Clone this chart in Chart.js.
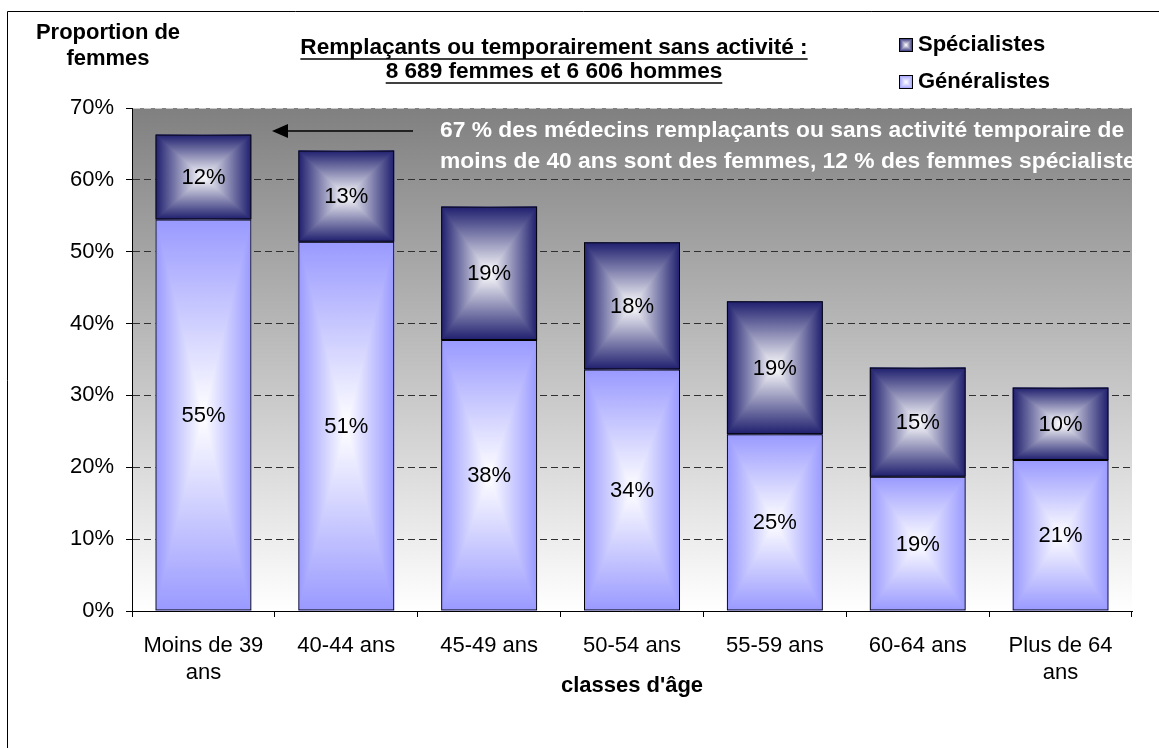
<!DOCTYPE html>
<html>
<head>
<meta charset="utf-8">
<script src="https://cdn.jsdelivr.net/npm/chart.js@4.4.0/dist/chart.umd.min.js"></script>
<style>
body { margin: 0; background: #fff; }
#wrap { width: 1159px; height: 748px; }
</style>
</head>
<body>
<div id="wrap"><canvas id="myChart" width="1159" height="748"></canvas></div>
<script>
var categories = [["Moins de 39", "ans"], "40-44 ans", "45-49 ans", "50-54 ans", "55-59 ans", "60-64 ans", ["Plus de 64", "ans"]];
var generalistes = [54.5, 51.4, 37.7, 33.6, 24.6, 18.7, 21.0];
var specialistes = [11.8, 12.7, 18.6, 17.7, 18.5, 15.2, 10.1];
var yTicks = [0, 10, 20, 30, 40, 50, 60, 70];

var FONT = "'Liberation Sans', Arial, sans-serif";
var edgeColors = ["#9999ff", "#1e1e6e"];

// rectangle gradient from the edges to the centre (like the Excel fill)
function frameFill(ctx, x0, y0, x1, y1, edge) {
    var cx = (x0 + x1) / 2, cy = (y0 + y1) / 2;
    var g = ctx.createLinearGradient(x0, 0, x1, 0);
    g.addColorStop(0, edge);
    g.addColorStop(0.5, "#ffffff");
    g.addColorStop(1, edge);
    ctx.fillStyle = g;
    ctx.fillRect(x0, y0, x1 - x0, y1 - y0);

    var gt = ctx.createLinearGradient(0, y0, 0, cy);
    gt.addColorStop(0, edge);
    gt.addColorStop(1, "#ffffff");
    ctx.fillStyle = gt;
    ctx.beginPath();
    ctx.moveTo(x0, y0); ctx.lineTo(cx, cy); ctx.lineTo(x1, y0);
    ctx.closePath(); ctx.fill();

    var gb = ctx.createLinearGradient(0, y1, 0, cy);
    gb.addColorStop(0, edge);
    gb.addColorStop(1, "#ffffff");
    ctx.fillStyle = gb;
    ctx.beginPath();
    ctx.moveTo(x0, y1); ctx.lineTo(cx, cy); ctx.lineTo(x1, y1);
    ctx.closePath(); ctx.fill();
}

var decor = {
    id: "decor",
    beforeDraw: function (chart) {
        var ctx = chart.ctx, a = chart.chartArea;
        ctx.save();
        ctx.fillStyle = "#fff";
        ctx.fillRect(0, 0, chart.width, chart.height);
        var g = ctx.createLinearGradient(0, a.top, 0, a.bottom);
        g.addColorStop(0, "#808080");
        g.addColorStop(1, "#ffffff");
        ctx.fillStyle = g;
        ctx.fillRect(a.left, a.top, a.right - a.left, a.bottom - a.top);
        // outer frame
        ctx.strokeStyle = "#000";
        ctx.lineWidth = 1;
        ctx.beginPath();
        ctx.moveTo(7.5, chart.height + 5);
        ctx.lineTo(7.5, 11.5);
        ctx.lineTo(chart.width + 5, 11.5);
        ctx.stroke();
        ctx.restore();
    },
    beforeDatasetsDraw: function (chart) {
        var ctx = chart.ctx;
        ctx.save();
        chart.data.datasets.forEach(function (ds, i) {
            chart.getDatasetMeta(i).data.forEach(function (el) {
                var p = el.getProps(["x", "y", "base", "width"], true);
                frameFill(ctx, p.x - p.width / 2, p.y, p.x + p.width / 2, p.base, edgeColors[i]);
            });
        });
        ctx.restore();
    },
    afterDatasetsDraw: function (chart) {
        var ctx = chart.ctx;
        ctx.save();
        ctx.fillStyle = "#000";
        ctx.font = "22px " + FONT;
        ctx.textAlign = "center";
        ctx.textBaseline = "middle";
        chart.data.datasets.forEach(function (ds, i) {
            chart.getDatasetMeta(i).data.forEach(function (el, j) {
                var p = el.getProps(["x", "y", "base"], true);
                ctx.fillText(Math.round(ds.data[j]) + "%", p.x, (p.y + p.base) / 2 + 1);
            });
        });
        ctx.restore();
    },
    afterDraw: function (chart) {
        var ctx = chart.ctx, a = chart.chartArea;
        ctx.save();
        ctx.fillStyle = "#000";
        ctx.textBaseline = "middle";
        ctx.textAlign = "center";
        ctx.font = "bold 22px " + FONT;
        ctx.fillText("Proportion de", 108, 33);
        ctx.fillText("femmes", 108, 59);
        ctx.fillText("classes d'âge", (a.left + a.right) / 2, 686);

        // underlined title
        ctx.font = "bold 22.6px " + FONT;
        var tl = ["Remplaçants ou temporairement sans activité :", "8 689 femmes et 6 606 hommes"];
        var ty = [48, 72];
        ctx.lineWidth = 1.5;
        ctx.strokeStyle = "#000";
        tl.forEach(function (t, i) {
            ctx.fillText(t, 554, ty[i]);
            var w = ctx.measureText(t).width;
            ctx.beginPath();
            ctx.moveTo(554 - w / 2, ty[i] + 11);
            ctx.lineTo(554 + w / 2, ty[i] + 11);
            ctx.stroke();
        });

        // legend
        ctx.font = "bold 22px " + FONT;
        ctx.textAlign = "left";
        var ly = [45, 82];
        [1, 0].forEach(function (di, k) {
            var y = ly[k];
            frameFill(ctx, 899, y - 7, 913, y + 7, edgeColors[di]);
            ctx.strokeStyle = "#000";
            ctx.lineWidth = 1;
            ctx.strokeRect(899.5, y - 6.5, 13, 13);
            ctx.fillStyle = "#000";
            ctx.fillText(chart.data.datasets[di].label, 918, y);
        });

        // annotation
        ctx.save();
        ctx.beginPath();
        ctx.rect(a.left, a.top, a.right - a.left, a.bottom - a.top);
        ctx.clip();
        ctx.font = "bold 22.8px " + FONT;
        ctx.fillStyle = "#fff";
        ctx.fillText("67 % des médecins remplaçants ou sans activité temporaire de", 440, 131);
        ctx.fillText("moins de 40 ans sont des femmes, 12 % des femmes spécialistes", 440, 162);
        ctx.restore();

        // arrow
        ctx.strokeStyle = "#000";
        ctx.fillStyle = "#000";
        ctx.lineWidth = 1.5;
        ctx.beginPath();
        ctx.moveTo(413, 131);
        ctx.lineTo(285, 131);
        ctx.stroke();
        ctx.beginPath();
        ctx.moveTo(272, 131);
        ctx.lineTo(288, 124);
        ctx.lineTo(288, 138);
        ctx.closePath();
        ctx.fill();
        ctx.restore();
    }
};

var ctx = document.getElementById("myChart").getContext("2d");
var chart = new Chart(ctx, {
    type: "bar",
    data: {
        labels: categories,
        datasets: [{
            label: "Généralistes",
            data: generalistes,
            backgroundColor: "rgba(0,0,0,0)",
            borderColor: "#000",
            borderWidth: 1,
            borderSkipped: false,
            barPercentage: 0.84,
            categoryPercentage: 0.8
        }, {
            label: "Spécialistes",
            data: specialistes,
            backgroundColor: "rgba(0,0,0,0)",
            borderColor: "#000",
            borderWidth: 1,
            borderSkipped: false,
            barPercentage: 0.84,
            categoryPercentage: 0.8
        }]
    },
    options: {
        responsive: false,
        animation: false,
        layout: { padding: { left: 0, top: 108, right: 27, bottom: 0 } },
        plugins: {
            legend: { display: false },
            tooltip: { enabled: false }
        },
        scales: {
            x: {
                stacked: true,
                afterFit: function (s) { s.height = 137; },
                grid: { drawOnChartArea: false, tickLength: 6, color: "#000" },
                border: { color: "#000", width: 1 },
                ticks: {
                    color: "#000",
                    padding: 15,
                    maxRotation: 0,
                    autoSkip: false,
                    font: { family: FONT, size: 22, lineHeight: 1.23 }
                }
            },
            y: {
                stacked: true,
                min: 0,
                max: 70,
                afterFit: function (s) { s.width = 132; },
                afterBuildTicks: function (s) {
                    s.ticks = yTicks.map(function (v) { return { value: v }; });
                },
                grid: {
                    color: function (c) { return c.tick && c.tick.value === 70 ? "#c8c8c8" : "#303030"; },
                    tickColor: "#000",
                    tickLength: 6
                },
                border: { color: "#000", width: 1, dash: [7, 4] },
                ticks: {
                    color: "#000",
                    padding: 12,
                    font: { family: FONT, size: 22 },
                    callback: function (v) { return v + "%"; }
                }
            }
        }
    },
    plugins: [decor]
});
</script>
</body>
</html>
